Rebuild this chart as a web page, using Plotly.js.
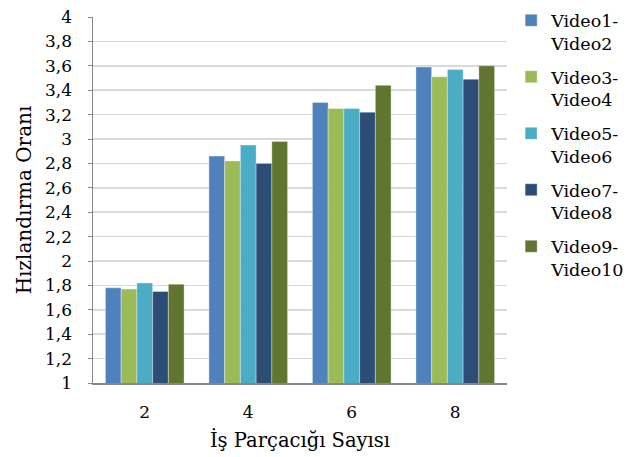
<!DOCTYPE html>
<html>
<head>
<meta charset="utf-8">
<script src="https://cdn.plot.ly/plotly-3.0.1.min.js"></script>
<style>html,body{margin:0;padding:0;background:#fff;}#chart{width:634px;height:457px;}</style>
</head>
<body>
<div id="chart"></div>
<script>
const categories = ["2", "4", "6", "8"];
const seriesNames = ["Video1-<br>Video2", "Video3-<br>Video4", "Video5-<br>Video6", "Video7-<br>Video8", "Video9-<br>Video10"];
const video1_2 = [1.78, 2.86, 3.30, 3.59];
const video3_4 = [1.77, 2.82, 3.25, 3.51];
const video5_6 = [1.82, 2.95, 3.25, 3.57];
const video7_8 = [1.75, 2.80, 3.22, 3.49];
const video9_10 = [1.81, 2.98, 3.44, 3.60];
const seriesValues = [video1_2, video3_4, video5_6, video7_8, video9_10];
const colors = ["#4F81BD", "#9BBB59", "#4BACC6", "#2C4D75", "#5F7530"];
const yTickVals = [1, 1.2, 1.4, 1.6, 1.8, 2, 2.2, 2.4, 2.6, 2.8, 3, 3.2, 3.4, 3.6, 3.8, 4];
const yTickText = ["1", "1,2", "1,4", "1,6", "1,8", "2", "2,2", "2,4", "2,6", "2,8", "3", "3,2", "3,4", "3,6", "3,8", "4"];

const font = "DejaVu Serif, Liberation Serif, serif";
const traces = seriesValues.map((vals, i) => ({
  type: "bar",
  x: categories,
  y: vals,
  name: seriesNames[i],
  legendgroup: "g" + i,
  marker: {color: colors[i], line: {color: "rgba(255,255,255,0.45)", width: 0.8}},
  hoverinfo: "none"
}));

const layout = {
  width: 634, height: 457,
  margin: {l: 93, r: 127, t: 17, b: 74, autoexpand: false},
  paper_bgcolor: "#fff", plot_bgcolor: "#fff",
  font: {family: font, size: 17, color: "#000"},
  barmode: "group",
  bargap: 0.24,
  bargroupgap: 0,
  showlegend: true,
  legend: {
    x: 1.01, xanchor: "left", y: 1.04, yanchor: "top",
    font: {family: font, size: 17.5, color: "#000"},
    valign: "top",
    tracegroupgap: 8,
    itemwidth: 30,
    maxheight: 440
  },
  xaxis: {
    type: "category",
    showline: true, linecolor: "#868686", linewidth: 1.5,
    ticks: "", showgrid: false,
    tickfont: {family: font, size: 17},
    ticklabelstandoff: 13,
    title: {text: "İş Parçacığı Sayısı", font: {family: font, size: 19.5}, standoff: 12}
  },
  yaxis: {
    range: [1, 4],
    tickvals: yTickVals, ticktext: yTickText,
    showline: true, linecolor: "#868686", linewidth: 1.5,
    ticks: "outside", ticklen: 4, tickcolor: "#868686",
    showgrid: true, gridcolor: "#D9D9D9", gridwidth: 1.5,
    zeroline: false,
    tickfont: {family: font, size: 17},
    ticklabelstandoff: 12,
    title: {text: "Hızlandırma Oranı", font: {family: font, size: 20}, standoff: 8}
  }
};

Plotly.newPlot("chart", traces, layout, {staticPlot: true, displayModeBar: false});
</script>
</body>
</html>
